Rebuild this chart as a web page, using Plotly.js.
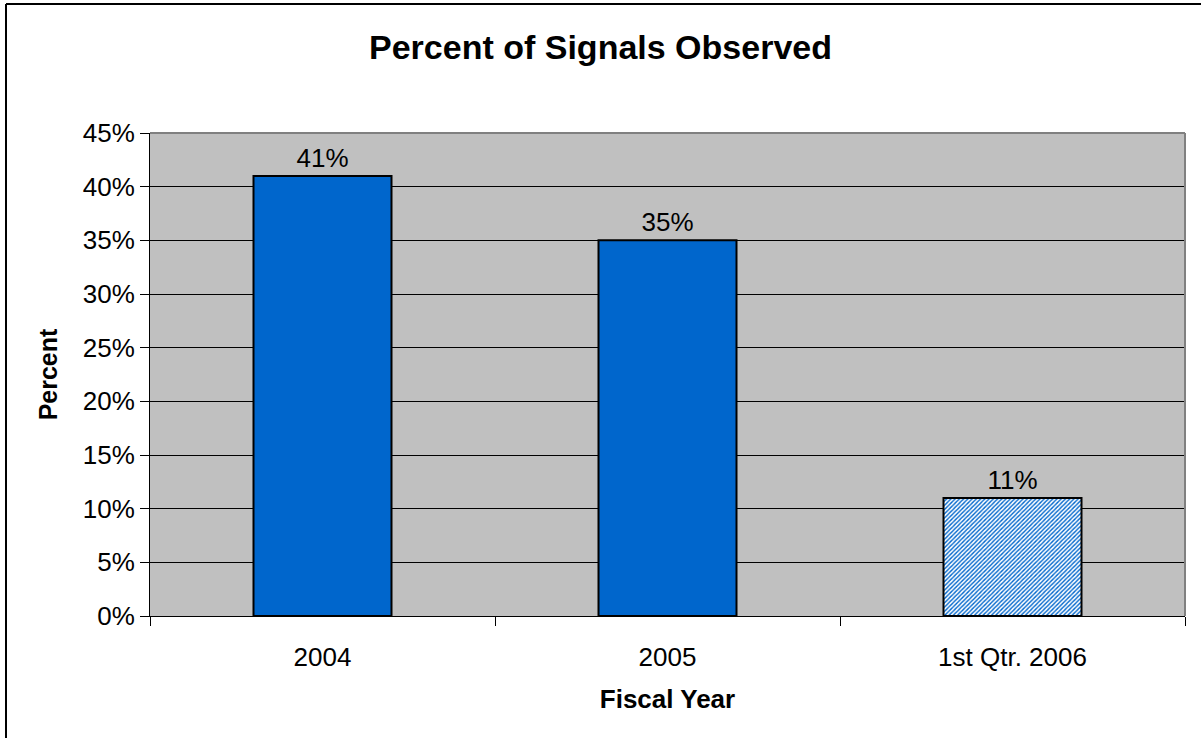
<!DOCTYPE html>
<html>
<head>
<meta charset="utf-8">
<script src="https://cdn.plot.ly/plotly-3.0.1.min.js"></script>
<style>
html,body{margin:0;padding:0;background:#fff;}
#chart{width:1201px;height:738px;}
</style>
</head>
<body>
<div id="chart"></div>
<script>
const categories = ["2004", "2005", "1st Qtr. 2006"];
const percentValues = [41, 35, 11];
const valueLabels = ["41%", "35%", "11%"];
const yTickValues = [0, 5, 10, 15, 20, 25, 30, 35, 40, 45];
const yTickLabels = ["0%", "5%", "10%", "15%", "20%", "25%", "30%", "35%", "40%", "45%"];

const FONT = "Arial, Liberation Sans, sans-serif";

const trace = {
  type: "bar",
  x: categories,
  y: percentValues,
  text: valueLabels,
  textposition: "outside",
  cliponaxis: false,
  textfont: {family: FONT, size: 26, color: "#000"},
  marker: {
    color: "#0066CC",
    line: {color: "#000", width: 2},
    pattern: {
      shape: ["", "", "/"],
      fillmode: "replace",
      bgcolor: "#ffffff",
      size: 3,
      solidity: 0.45
    }
  },
  hoverinfo: "none"
};

const W = 1035, H = 483, L = 150, T = 133;
function px(x){return (x - L) / W;}
function py(y){return (T + H - y) / H;}

const layout = {
  width: 1201,
  height: 738,
  margin: {l: 150, r: 16, t: 133, b: 122},
  paper_bgcolor: "#ffffff",
  plot_bgcolor: "#C0C0C0",
  showlegend: false,
  bargap: 0.6,
  font: {family: FONT, color: "#000"},
  title: {
    text: "<b>Percent of Signals Observed</b>",
    font: {family: FONT, size: 34, color: "#000"},
    x: 0.5, xanchor: "center",
    y: 1 - 47/738, yanchor: "middle", yref: "container"
  },
  xaxis: {
    type: "category",
    showline: true, linecolor: "#000", linewidth: 1,
    ticks: "outside", ticklen: 9, tickcolor: "#000", tickson: "boundaries",
    ticklabelstandoff: 18,
    tickfont: {family: FONT, size: 26, color: "#000"},
    showgrid: false,
    title: {text: "<b>Fiscal Year</b>", font: {family: FONT, size: 26, color: "#000"}, standoff: 18}
  },
  yaxis: {
    range: [0, 45],
    tickvals: yTickValues,
    ticktext: yTickLabels,
    showline: true, linecolor: "#000", linewidth: 1,
    ticks: "outside", ticklen: 9, tickcolor: "#000",
    tickfont: {family: FONT, size: 26, color: "#000"},
    showgrid: true, gridcolor: "#000", gridwidth: 1,
    zeroline: false,
    title: {text: "<b>Percent</b>", font: {family: FONT, size: 25, color: "#000"}, standoff: 18}
  },
  shapes: [
    {type: "line", xref: "paper", yref: "paper", x0: 0, x1: 1, y0: 1, y1: 1, line: {color: "#808080", width: 2}},
    {type: "line", xref: "paper", yref: "paper", x0: 1, x1: 1, y0: 0, y1: 1, line: {color: "#808080", width: 2}},
    {type: "line", xref: "paper", yref: "paper", x0: px(6), x1: px(6), y0: py(4), y1: py(740), line: {color: "#000", width: 2}},
    {type: "line", xref: "paper", yref: "paper", x0: px(6), x1: px(1205), y0: py(4), y1: py(4), line: {color: "#000", width: 2}}
  ]
};

Plotly.newPlot("chart", [trace], layout, {displayModeBar: false, staticPlot: true});
</script>
</body>
</html>
